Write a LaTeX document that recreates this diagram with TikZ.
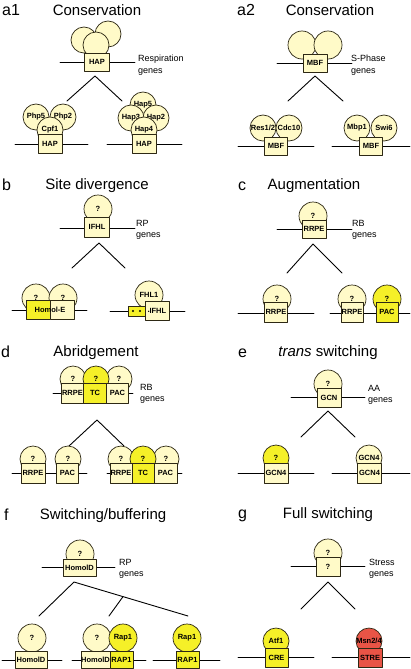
\documentclass[tikz,border=0pt]{standalone}
\usepackage{fontspec}
\setmainfont{Liberation Sans}
\usetikzlibrary{calc}
\definecolor{pale}{RGB}{255,250,200}
\definecolor{lemon}{RGB}{245,240,40}
\definecolor{salmon}{RGB}{232,84,70}
\definecolor{edge}{RGB}{45,40,20}
\begin{document}
\begin{tikzpicture}[x=1pt, y=-1pt, line join=round, line cap=round,
  dna/.style={line width=0.9pt},
  branch/.style={line width=0.9pt},
  prot/.style={circle, draw=edge, line width=0.7pt, fill=pale, minimum size=26pt, inner sep=0pt, font=\bfseries\fontsize{7.5}{8}\selectfont},
  bigprot/.style={prot, minimum size=28pt},
  site/.style={rectangle, draw=edge, line width=0.7pt, fill=pale, minimum width=24pt, minimum height=19pt, inner sep=0pt, font=\bfseries\fontsize{7.5}{8}\selectfont},
  panel/.style={anchor=base west, inner sep=0pt, font=\fontsize{16}{18}\selectfont},
  title/.style={anchor=base, inner sep=0pt, font=\fontsize{15}{17}\selectfont},
  side/.style={anchor=west, inner sep=0pt, align=left, font=\fontsize{9}{11.5}\selectfont}]
\useasboundingbox (0,0) rectangle (410,669);

% a1 -------------------------------------------------
\node[panel] (a1lab) at (2,16) {a1};
\node[title] (a1tit) at (97,16) {Conservation};
\coordinate (a1w) at (60,62); \coordinate (a1e) at (135,62);
\draw[dna] (a1w) -- (a1e);
\node[prot] (a1p1) at (84,40) {};
\node[prot] (a1p2) at (108,34) {};
\node[prot] (a1p3) at (96,45) {};
\node[site, minimum width=25pt, minimum height=18pt] (a1hap) at (97,62) {HAP};
\node[side] (a1gen) at (138,65) {Respiration\\genes};
\coordinate (a1v) at (95,76); \coordinate (a1vl) at (67,101); \coordinate (a1vr) at (122,101);
\draw[branch] (a1vl) -- (a1v) -- (a1vr);
% left child
\coordinate (a1lw) at (15,144); \coordinate (a1le) at (88,144);
\draw[dna] (a1lw) -- (a1le);
\node[prot] (a1php5) at (36,117) {Php5};
\node[prot] (a1php2) at (63,117) {Php2};
\node[prot] (a1cpf1) at (50,130) {Cpf1};
\node[site] (a1hapl) at (50,144) {HAP};
% right child
\coordinate (a1rw) at (107,144); \coordinate (a1re) at (182,144);
\draw[dna] (a1rw) -- (a1re);
\node[prot] (a1hap5) at (143,105) {Hap5};
\node[prot] (a1hap3) at (131,118) {Hap3};
\node[prot] (a1hap2) at (156,118) {Hap2};
\node[prot] (a1hap4) at (144,130) {Hap4};
\node[site] (a1hapr) at (144,144) {HAP};

% a2 -------------------------------------------------
\node[panel] (a2lab) at (237,16) {a2};
\node[title] (a2tit) at (330,16) {Conservation};
\coordinate (a2w) at (277,63); \coordinate (a2e) at (352,63);
\draw[dna] (a2w) -- (a2e);
\node[bigprot] (a2p1) at (302,45) {};
\node[bigprot] (a2p2) at (328,45) {};
\node[site, minimum height=18pt] (a2mbf) at (315,63) {MBF};
\node[side] (a2gen) at (351,65) {S-Phase\\genes};
\coordinate (a2v) at (315,76); \coordinate (a2vl) at (288,101); \coordinate (a2vr) at (343,101);
\draw[branch] (a2vl) -- (a2v) -- (a2vr);
% left child
\coordinate (a2lw) at (238,146); \coordinate (a2le) at (314,146);
\draw[dna] (a2lw) -- (a2le);
\node[prot] (a2res) at (263,128) {Res1/2};
\node[prot] (a2cdc) at (289,128) {Cdc10};
\node[site, minimum width=23pt, minimum height=18pt] (a2mbfl) at (276,146) {MBF};
% right child
\coordinate (a2rw) at (332,146); \coordinate (a2re) at (410,146);
\draw[dna] (a2rw) -- (a2re);
\node[prot] (a2mbp) at (357,128) {Mbp1};
\node[prot] (a2swi) at (384,128) {Swi6};
\node[site, minimum width=23pt, minimum height=18pt] (a2mbfr) at (371,146) {MBF};

% b --------------------------------------------------
\node[panel] (blab) at (2,190) {b};
\node[title] (btit) at (97,189) {Site divergence};
\coordinate (bw) at (60,228); \coordinate (be) at (135,228);
\draw[dna] (bw) -- (be);
\node[bigprot] (bq) at (98,209) {?};
\node[site, minimum width=25pt, minimum height=20pt] (bifhl) at (97,227) {IFHL};
\node[side] (bgen) at (136,230) {RP\\genes};
\coordinate (bv) at (99,243); \coordinate (bvl) at (72,268); \coordinate (bvr) at (125,268);
\draw[branch] (bvl) -- (bv) -- (bvr);
% left child
\coordinate (blw) at (12,310); \coordinate (ble) at (87,310);
\draw[dna] (blw) -- (ble);
\node[bigprot] (bq1) at (36,298) {?};
\node[bigprot] (bq2) at (63,298) {?};
\node[site, fill=lemon] (bhl) at (38,310) {};
\node[site] (bhr) at (62,310) {};
\node[inner sep=0pt, font=\bfseries\fontsize{7.5}{8}\selectfont] (bhe) at (50,310) {Homol-E};
% right child
\coordinate (brw) at (110,311); \coordinate (bre) at (185,311);
\draw[dna] (brw) -- (bre);
\node[bigprot] (bfhl) at (149,295) {FHL1};
\node[site, fill=lemon, minimum width=17pt, minimum height=10pt] (bdots) at (136.5,311) {};
\fill (133,311) circle (1.1pt);
\fill (140,311) circle (1.1pt);
\node[site] (bifhl2) at (157,310.5) {{\fontsize{5}{5}\selectfont\textbullet}IFHL};

% c --------------------------------------------------
\node[panel] (clab) at (238,190) {c};
\node[title] (ctit) at (314,189) {Augmentation};
\coordinate (cw) at (277,229); \coordinate (ce) at (352,229);
\draw[dna] (cw) -- (ce);
\node[bigprot] (cq) at (313,216) {?};
\node[site, minimum height=18pt] (crrpe) at (314,229) {RRPE};
\node[side] (cgen) at (352,230) {RB\\genes};
\coordinate (cv) at (313,244); \coordinate (cvl) at (287,273); \coordinate (cvr) at (342,273);
\draw[branch] (cvl) -- (cv) -- (cvr);
% left child
\coordinate (clw) at (238,313); \coordinate (cle) at (314,313);
\draw[dna] (clw) -- (cle);
\node[bigprot] (cq1) at (277,299) {?};
\node[site, minimum width=23pt, minimum height=20pt] (crrpel) at (276,312) {RRPE};
% right child
\coordinate (crw) at (330,313); \coordinate (cre) at (410,313);
\draw[dna] (crw) -- (cre);
\node[bigprot] (cq2) at (352,299) {?};
\node[bigprot, fill=lemon] (cq3) at (387,299) {?};
\node[site, minimum width=22pt, minimum height=20pt] (crrper) at (352,312) {RRPE};
\node[site, fill=lemon, minimum width=22pt, minimum height=20pt] (cpac) at (387,312) {PAC};

% d --------------------------------------------------
\node[panel] (dlab) at (1,357) {d};
\node[title] (dtit) at (96,356) {Abridgement};
\coordinate (dw) at (53,393); \coordinate (de) at (133,393);
\draw[dna] (dw) -- (de);
\node[prot] (dq1) at (73,379) {?};
\node[prot] (dq3) at (119,379) {?};
\node[prot, fill=lemon] (dq2) at (96,379) {?};
\node[site, minimum width=22pt, minimum height=20pt] (drrpe) at (72.5,393) {RRPE};
\node[site, fill=lemon, minimum width=23pt, minimum height=20pt] (dtc) at (95,393) {TC};
\node[site, minimum width=22pt, minimum height=20pt] (dpac) at (117.5,393) {PAC};
\node[side] (dgen) at (140,394) {RB\\genes};
\coordinate (dv) at (97,420); \coordinate (dvl) at (69,446); \coordinate (dvr) at (124,446);
\draw[branch] (dvl) -- (dv) -- (dvr);
% left child
\coordinate (dlw) at (12,473); \coordinate (dle) at (87,473);
\draw[dna] (dlw) -- (dle);
\node[prot] (dq4) at (33,459) {?};
\node[prot] (dq5) at (68,459) {?};
\node[site, minimum height=20pt] (drrpel) at (33,473) {RRPE};
\node[site, minimum width=22pt, minimum height=20pt] (dpacl) at (67.5,473) {PAC};
% right child
\coordinate (drw) at (107,473); \coordinate (dre) at (182,473);
\draw[dna] (drw) -- (dre);
\node[prot] (dq6) at (121,459) {?};
\node[prot] (dq8) at (166,459) {?};
\node[prot, fill=lemon] (dq7) at (143,459) {?};
\node[site, minimum width=22pt, minimum height=20pt] (drrper) at (121,473) {RRPE};
\node[site, fill=lemon, minimum width=22pt, minimum height=20pt] (dtcr) at (143,473) {TC};
\node[site, minimum width=23pt, minimum height=20pt] (dpacr) at (165.5,473) {PAC};

% e --------------------------------------------------
\node[panel] (elab) at (238,357) {e};
\node[title] (etit) at (328,356) {\textit{trans} switching};
\coordinate (ew) at (291,397); \coordinate (ee) at (365,397);
\draw[dna] (ew) -- (ee);
\node[bigprot] (eq) at (328,384) {?};
\node[site] (egcn) at (329,398) {GCN};
\node[side] (egen) at (368,395) {AA\\genes};
\coordinate (ev) at (328,411); \coordinate (evl) at (301,437); \coordinate (evr) at (355,437);
\draw[branch] (evl) -- (ev) -- (evr);
% left child
\coordinate (elw) at (238,473); \coordinate (ele) at (314,473);
\draw[dna] (elw) -- (ele);
\node[prot, fill=lemon] (eq1) at (276,458) {?};
\node[site, minimum height=20pt] (egcn4l) at (276,473) {GCN4};
% right child
\coordinate (erw) at (332,473); \coordinate (ere) at (410,473);
\draw[dna] (erw) -- (ere);
\node[prot] (egcn4p) at (369,458) {GCN4};
\node[site, minimum height=20pt] (egcn4r) at (369.5,473) {GCN4};

% f --------------------------------------------------
\node[panel] (flab) at (4,520) {f};
\node[title] (ftit) at (103,519) {Switching/buffering};
\coordinate (fw) at (42,567); \coordinate (fe) at (115,567);
\draw[dna] (fw) -- (fe);
\node[bigprot] (fq) at (80,554) {?};
\node[site, minimum width=33pt, minimum height=17pt] (fhom) at (79.5,568) {HomolD};
\node[side] (fgen) at (119,569) {RP\\genes};
\coordinate (fv) at (74,582); \coordinate (fvl) at (39,616); \coordinate (fvr) at (188,616);
\coordinate (fvm) at ($(fv)!0.43!(fvr)$); \coordinate (fvml) at (109,616);
\draw[branch] (fvl) -- (fv) -- (fvr);
\draw[branch] (fvm) -- (fvml);
% left child
\coordinate (flw) at (2,660); \coordinate (fle) at (62,660);
\draw[dna] (flw) -- (fle);
\node[bigprot] (fq1) at (32,638) {?};
\node[site, minimum width=32pt, minimum height=17pt] (fhoml) at (31,660) {HomolD};
% middle child
\coordinate (fmw) at (72,660); \coordinate (fme) at (146,660);
\draw[dna] (fmw) -- (fme);
\node[bigprot] (fq2) at (97,638) {?};
\node[bigprot, fill=lemon] (frap1) at (123,638) {Rap1};
\node[site, minimum width=29pt, minimum height=17pt] (fhomm) at (95.5,660) {HomolD};
\node[site, fill=lemon, minimum width=23pt, minimum height=17pt] (fRAP1) at (121.5,660) {RAP1};
% right child
\coordinate (frw) at (153,660); \coordinate (fre) at (220,660);
\draw[dna] (frw) -- (fre);
\node[bigprot, fill=lemon] (frap2) at (187,638) {Rap1};
\node[site, fill=lemon, minimum width=23pt, minimum height=17pt] (fRAP2) at (187.5,660) {RAP1};

% g --------------------------------------------------
\node[panel] (glab) at (238,518) {g};
\node[title] (gtit) at (328,518) {Full switching};
\coordinate (gw) at (291,566); \coordinate (ge) at (365,566);
\draw[dna] (gw) -- (ge);
\node[bigprot] (gq) at (328,553) {?};
\node[site] (gqs) at (328,566.5) {?};
\node[side] (ggen) at (369,569) {Stress\\genes};
\coordinate (gv) at (328,582); \coordinate (gvl) at (301,609); \coordinate (gvr) at (355,609);
\draw[branch] (gvl) -- (gv) -- (gvr);
% left child
\coordinate (glw) at (238,657); \coordinate (gle) at (314,657);
\draw[dna] (glw) -- (gle);
\node[prot, fill=lemon] (gatf) at (276,641) {Atf1};
\node[site, fill=lemon, minimum width=23pt] (gcre) at (276.5,657.5) {CRE};
% right child
\coordinate (grw) at (332,657); \coordinate (gre) at (410,657);
\draw[dna] (grw) -- (gre);
\node[prot, fill=salmon] (gmsn) at (369,641) {Msn2/4};
\node[site, fill=salmon] (gstre) at (370,657.5) {STRE};
\end{tikzpicture}
\end{document}
